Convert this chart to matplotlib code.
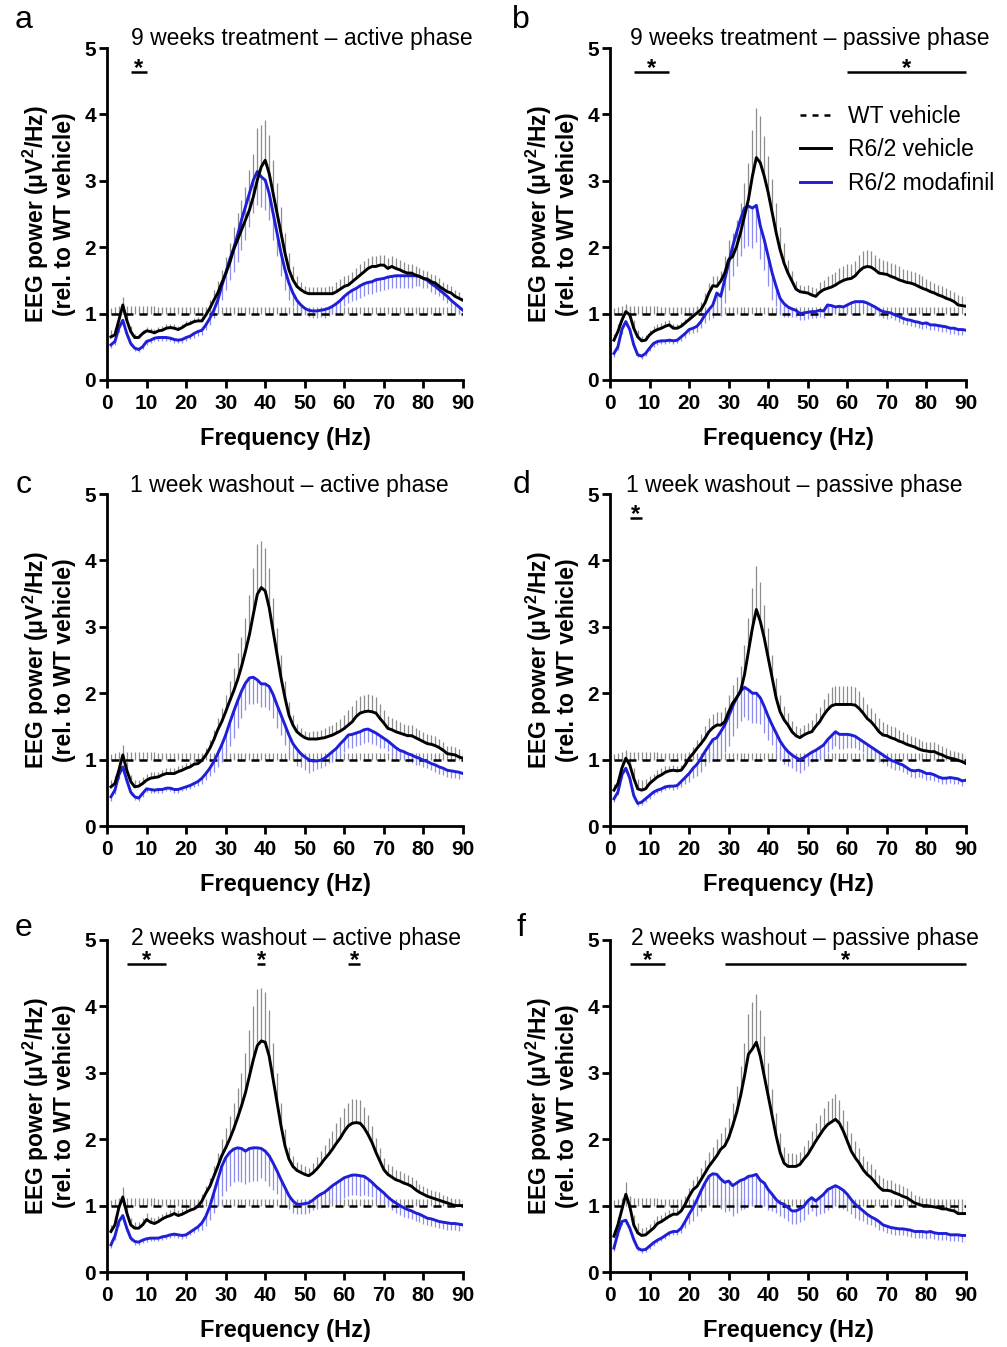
import numpy as np
import matplotlib
matplotlib.use('Agg')
import matplotlib.pyplot as plt
from matplotlib.lines import Line2D

plt.rcParams['font.family'] = ['Liberation Sans', 'DejaVu Sans']
plt.rcParams['mathtext.fontset'] = 'custom'
plt.rcParams['mathtext.rm'] = 'Liberation Sans'
plt.rcParams['mathtext.bf'] = 'Liberation Sans:bold'

#%% data (EEG power relative to WT vehicle, 1-90 Hz, mean and SEM)

freq = np.arange(1, 91)

# WT vehicle is the reference (=1), its SEM is about the same in all panels
wt_sem = [0.08,0.10,0.12,0.12,0.12,0.12,0.12,0.12,0.12,0.12,
          0.12,0.12,0.10,0.10,0.10,0.10,0.10,0.10,0.10,0.10,
          0.10,0.10,0.10,0.10,0.10,0.10,0.10,0.10,0.10,0.10,
          0.10,0.10,0.10,0.10,0.10,0.10,0.10,0.10,0.10,0.10,
          0.10,0.10,0.10,0.10,0.10,0.10,0.10,0.10,0.10,0.10,
          0.10,0.10,0.10,0.10,0.10,0.10,0.10,0.10,0.10,0.10,
          0.10,0.10,0.10,0.10,0.10,0.10,0.10,0.10,0.10,0.10,
          0.10,0.10,0.10,0.10,0.10,0.10,0.10,0.10,0.10,0.10,
          0.10,0.10,0.10,0.10,0.10,0.10,0.10,0.10,0.10,0.10]

# a: 9 weeks treatment - active phase
a_veh = [0.65,0.68,0.90,1.13,0.90,0.73,0.64,0.64,0.70,0.74,
         0.73,0.71,0.74,0.75,0.78,0.79,0.78,0.76,0.79,0.83,
         0.85,0.88,0.89,0.89,0.98,1.08,1.20,1.31,1.46,1.60,
         1.76,1.96,2.11,2.26,2.41,2.56,2.76,3.01,3.21,3.31,
         3.11,2.81,2.51,2.21,1.91,1.66,1.51,1.41,1.36,1.32,
         1.30,1.30,1.30,1.30,1.30,1.30,1.30,1.33,1.37,1.41,
         1.43,1.48,1.53,1.58,1.63,1.68,1.71,1.71,1.73,1.73,
         1.68,1.71,1.68,1.66,1.63,1.61,1.61,1.58,1.56,1.53,
         1.52,1.48,1.46,1.41,1.37,1.33,1.31,1.26,1.23,1.20]
a_veh_sem = [0.10,0.10,0.10,0.12,0.10,0.08,0.06,0.06,0.06,0.06,
             0.06,0.06,0.06,0.06,0.06,0.06,0.06,0.06,0.06,0.06,
             0.06,0.06,0.06,0.08,0.10,0.12,0.15,0.18,0.20,0.25,
             0.30,0.35,0.40,0.45,0.50,0.60,0.65,0.78,0.63,0.60,
             0.58,0.50,0.45,0.40,0.30,0.25,0.20,0.15,0.12,0.10,
             0.10,0.10,0.10,0.10,0.10,0.12,0.12,0.14,0.15,0.15,
             0.15,0.15,0.16,0.16,0.16,0.16,0.16,0.16,0.15,0.15,
             0.15,0.15,0.15,0.14,0.14,0.14,0.13,0.13,0.12,0.12,
             0.12,0.12,0.12,0.12,0.11,0.11,0.10,0.10,0.10,0.10]
a_mod = [0.53,0.58,0.78,0.90,0.70,0.55,0.48,0.46,0.50,0.58,
         0.60,0.63,0.64,0.64,0.64,0.63,0.61,0.60,0.61,0.64,
         0.66,0.70,0.73,0.75,0.83,0.93,1.05,1.20,1.41,1.61,
         1.81,1.98,2.18,2.41,2.61,2.81,3.01,3.14,3.06,3.01,
         2.81,2.51,2.21,1.91,1.66,1.46,1.31,1.20,1.13,1.08,
         1.05,1.04,1.04,1.05,1.06,1.08,1.11,1.15,1.20,1.26,
         1.31,1.35,1.38,1.42,1.45,1.47,1.48,1.51,1.52,1.53,
         1.55,1.56,1.57,1.57,1.57,1.57,1.57,1.57,1.56,1.53,
         1.50,1.45,1.41,1.36,1.31,1.26,1.20,1.15,1.10,1.05]
a_mod_sem = [0.05,0.05,0.05,0.06,0.05,0.04,0.04,0.04,0.04,0.05,
             0.05,0.05,0.05,0.05,0.05,0.05,0.05,0.05,0.05,0.05,
             0.05,0.06,0.06,0.07,0.08,0.10,0.12,0.15,0.20,0.25,
             0.30,0.35,0.40,0.45,0.50,0.50,0.50,0.50,0.45,0.45,
             0.40,0.40,0.35,0.35,0.30,0.25,0.20,0.15,0.12,0.10,
             0.10,0.10,0.10,0.10,0.12,0.12,0.12,0.15,0.15,0.15,
             0.15,0.16,0.18,0.18,0.18,0.18,0.18,0.18,0.18,0.18,
             0.18,0.18,0.18,0.18,0.18,0.18,0.18,0.15,0.15,0.15,
             0.12,0.12,0.12,0.10,0.10,0.10,0.10,0.10,0.10,0.10]

# b: 9 weeks treatment - passive phase
b_veh = [0.60,0.73,0.90,1.03,0.98,0.78,0.65,0.59,0.60,0.68,
         0.73,0.76,0.78,0.81,0.83,0.78,0.78,0.81,0.86,0.91,
         0.96,1.01,1.06,1.16,1.31,1.42,1.41,1.49,1.61,1.81,
         1.86,2.01,2.22,2.47,2.72,3.07,3.35,3.27,3.07,2.82,
         2.52,2.22,1.96,1.76,1.61,1.49,1.37,1.33,1.32,1.31,
         1.28,1.26,1.32,1.36,1.38,1.40,1.43,1.47,1.50,1.52,
         1.53,1.57,1.64,1.69,1.71,1.70,1.66,1.61,1.60,1.59,
         1.56,1.54,1.51,1.49,1.47,1.46,1.44,1.41,1.38,1.36,
         1.33,1.31,1.28,1.26,1.23,1.21,1.18,1.13,1.12,1.11]
b_veh_sem = [0.10,0.12,0.12,0.12,0.12,0.12,0.10,0.08,0.08,0.08,
             0.08,0.08,0.08,0.08,0.08,0.06,0.06,0.06,0.06,0.06,
             0.08,0.10,0.12,0.15,0.15,0.15,0.15,0.15,0.25,0.30,
             0.35,0.40,0.45,0.50,0.55,0.70,0.75,0.70,0.60,0.55,
             0.50,0.45,0.35,0.30,0.20,0.15,0.12,0.10,0.10,0.12,
             0.12,0.12,0.15,0.15,0.18,0.20,0.20,0.22,0.22,0.22,
             0.22,0.22,0.24,0.25,0.25,0.25,0.22,0.22,0.20,0.20,
             0.20,0.20,0.20,0.18,0.18,0.18,0.18,0.18,0.18,0.16,
             0.16,0.15,0.15,0.15,0.15,0.15,0.15,0.15,0.15,0.15]
b_mod = [0.40,0.50,0.76,0.88,0.76,0.53,0.38,0.36,0.40,0.48,
         0.55,0.58,0.59,0.59,0.60,0.59,0.60,0.65,0.70,0.76,
         0.78,0.81,0.88,0.98,1.06,1.13,1.31,1.26,1.51,1.76,
         2.01,2.22,2.42,2.59,2.62,2.59,2.63,2.32,2.11,1.86,
         1.61,1.41,1.23,1.15,1.10,1.07,1.05,1.00,1.01,1.02,
         1.03,1.03,1.05,1.04,1.13,1.12,1.10,1.11,1.10,1.13,
         1.16,1.18,1.18,1.18,1.16,1.13,1.10,1.06,1.03,1.02,
         1.01,0.98,0.96,0.93,0.91,0.90,0.88,0.87,0.85,0.86,
         0.83,0.83,0.82,0.81,0.80,0.78,0.78,0.76,0.76,0.75]
b_mod_sem = [0.05,0.05,0.06,0.06,0.05,0.04,0.04,0.04,0.04,0.05,
             0.05,0.05,0.05,0.05,0.05,0.05,0.05,0.06,0.06,0.07,
             0.07,0.08,0.10,0.12,0.15,0.20,0.25,0.30,0.35,0.40,
             0.45,0.50,0.55,0.60,0.60,0.60,0.55,0.50,0.45,0.45,
             0.40,0.30,0.25,0.20,0.15,0.12,0.10,0.10,0.10,0.10,
             0.10,0.10,0.10,0.10,0.10,0.10,0.10,0.10,0.10,0.10,
             0.10,0.10,0.10,0.10,0.10,0.10,0.10,0.10,0.10,0.10,
             0.08,0.08,0.08,0.08,0.08,0.08,0.08,0.08,0.08,0.08,
             0.08,0.08,0.08,0.08,0.08,0.08,0.08,0.08,0.08,0.08]

# c: 1 week washout - active phase
c_veh = [0.59,0.64,0.84,1.07,0.84,0.67,0.59,0.60,0.64,0.69,
         0.72,0.73,0.74,0.77,0.79,0.79,0.79,0.82,0.84,0.87,
         0.89,0.93,0.94,0.99,1.07,1.17,1.30,1.45,1.57,1.72,
         1.88,2.03,2.20,2.40,2.63,2.88,3.19,3.49,3.59,3.54,
         3.29,2.93,2.58,2.23,1.93,1.67,1.52,1.42,1.37,1.33,
         1.31,1.31,1.31,1.32,1.33,1.35,1.37,1.40,1.43,1.47,
         1.52,1.57,1.65,1.70,1.72,1.73,1.72,1.70,1.62,1.55,
         1.47,1.45,1.42,1.40,1.38,1.36,1.36,1.33,1.30,1.27,
         1.24,1.23,1.21,1.18,1.14,1.09,1.08,1.07,1.04,1.02]
c_veh_sem = [0.10,0.12,0.12,0.15,0.12,0.10,0.10,0.10,0.10,0.10,
             0.10,0.08,0.08,0.08,0.08,0.08,0.08,0.08,0.08,0.08,
             0.08,0.08,0.08,0.10,0.10,0.12,0.15,0.18,0.20,0.25,
             0.30,0.35,0.40,0.45,0.50,0.60,0.70,0.75,0.70,0.65,
             0.60,0.50,0.40,0.35,0.25,0.20,0.15,0.12,0.10,0.10,
             0.10,0.12,0.12,0.12,0.14,0.15,0.15,0.16,0.18,0.20,
             0.22,0.24,0.25,0.26,0.26,0.26,0.26,0.24,0.22,0.20,
             0.18,0.18,0.18,0.16,0.16,0.16,0.16,0.15,0.15,0.15,
             0.14,0.14,0.14,0.13,0.13,0.12,0.12,0.12,0.12,0.12]
c_mod = [0.44,0.54,0.77,0.89,0.69,0.51,0.44,0.42,0.49,0.56,
         0.55,0.54,0.55,0.55,0.57,0.57,0.55,0.55,0.57,0.59,
         0.61,0.64,0.67,0.72,0.79,0.87,0.97,1.09,1.22,1.37,
         1.55,1.72,1.88,2.03,2.15,2.23,2.24,2.20,2.14,2.14,
         2.10,1.98,1.82,1.67,1.52,1.37,1.24,1.16,1.09,1.04,
         1.00,0.98,0.98,0.99,1.02,1.07,1.12,1.17,1.24,1.30,
         1.37,1.38,1.40,1.42,1.45,1.46,1.43,1.40,1.36,1.32,
         1.28,1.23,1.18,1.14,1.12,1.09,1.07,1.04,1.02,0.99,
         0.97,0.94,0.92,0.89,0.87,0.84,0.83,0.82,0.81,0.79]
c_mod_sem = [0.06,0.06,0.06,0.06,0.05,0.05,0.05,0.05,0.05,0.05,
             0.05,0.05,0.05,0.05,0.05,0.05,0.05,0.05,0.05,0.05,
             0.06,0.06,0.07,0.08,0.10,0.12,0.15,0.20,0.25,0.30,
             0.35,0.40,0.40,0.40,0.40,0.40,0.40,0.35,0.35,0.35,
             0.35,0.35,0.35,0.30,0.30,0.30,0.25,0.25,0.20,0.20,
             0.20,0.15,0.12,0.12,0.12,0.12,0.15,0.15,0.18,0.18,
             0.20,0.20,0.20,0.20,0.20,0.20,0.20,0.18,0.18,0.15,
             0.15,0.15,0.15,0.12,0.12,0.12,0.12,0.12,0.10,0.10,
             0.10,0.10,0.10,0.10,0.10,0.10,0.10,0.10,0.10,0.10]

# d: 1 week washout - passive phase
d_veh = [0.54,0.64,0.87,1.02,0.92,0.72,0.56,0.54,0.56,0.64,
         0.69,0.74,0.77,0.81,0.83,0.84,0.83,0.84,0.92,1.02,
         1.09,1.17,1.24,1.32,1.42,1.48,1.52,1.52,1.57,1.72,
         1.85,1.93,2.03,2.28,2.63,2.98,3.26,3.08,2.83,2.53,
         2.23,1.93,1.72,1.60,1.52,1.42,1.36,1.33,1.37,1.40,
         1.42,1.50,1.57,1.67,1.75,1.81,1.83,1.83,1.83,1.83,
         1.83,1.82,1.77,1.70,1.62,1.57,1.50,1.42,1.37,1.36,
         1.33,1.31,1.28,1.26,1.23,1.21,1.19,1.16,1.14,1.13,
         1.12,1.12,1.09,1.07,1.04,1.02,1.01,0.99,0.97,0.94]
d_veh_sem = [0.10,0.10,0.10,0.12,0.12,0.15,0.15,0.15,0.15,0.12,
             0.10,0.10,0.10,0.10,0.08,0.08,0.08,0.08,0.10,0.10,
             0.10,0.12,0.15,0.18,0.20,0.20,0.20,0.20,0.22,0.25,
             0.28,0.32,0.38,0.45,0.50,0.60,0.65,0.60,0.50,0.45,
             0.35,0.30,0.25,0.20,0.18,0.16,0.15,0.15,0.15,0.15,
             0.18,0.20,0.22,0.25,0.26,0.28,0.28,0.28,0.28,0.28,
             0.28,0.28,0.26,0.25,0.22,0.20,0.20,0.20,0.20,0.18,
             0.18,0.18,0.16,0.16,0.15,0.15,0.15,0.15,0.14,0.14,
             0.14,0.14,0.14,0.14,0.13,0.12,0.12,0.12,0.12,0.12]
d_mod = [0.41,0.51,0.77,0.87,0.72,0.46,0.34,0.36,0.41,0.46,
         0.51,0.54,0.56,0.59,0.60,0.60,0.61,0.67,0.73,0.79,
         0.87,0.93,1.02,1.12,1.21,1.30,1.33,1.42,1.52,1.65,
         1.80,1.93,2.03,2.09,2.05,2.00,2.00,1.93,1.80,1.65,
         1.52,1.40,1.28,1.19,1.12,1.07,1.03,1.00,1.03,1.07,
         1.11,1.14,1.18,1.22,1.30,1.36,1.42,1.38,1.38,1.38,
         1.37,1.35,1.31,1.27,1.23,1.19,1.15,1.11,1.07,1.03,
         0.99,0.97,0.94,0.92,0.88,0.84,0.83,0.84,0.82,0.79,
         0.79,0.77,0.74,0.72,0.72,0.73,0.72,0.71,0.68,0.69]
d_mod_sem = [0.05,0.05,0.05,0.06,0.05,0.05,0.04,0.04,0.05,0.05,
             0.05,0.05,0.05,0.05,0.05,0.06,0.06,0.08,0.10,0.12,
             0.15,0.18,0.20,0.22,0.25,0.30,0.30,0.35,0.40,0.45,
             0.45,0.45,0.45,0.45,0.45,0.45,0.45,0.40,0.40,0.35,
             0.30,0.30,0.28,0.25,0.22,0.20,0.20,0.20,0.18,0.16,
             0.15,0.15,0.15,0.16,0.18,0.20,0.22,0.22,0.22,0.20,
             0.20,0.18,0.16,0.15,0.15,0.15,0.14,0.14,0.12,0.12,
             0.12,0.12,0.10,0.10,0.10,0.10,0.10,0.10,0.09,0.09,
             0.09,0.09,0.08,0.08,0.08,0.08,0.08,0.08,0.08,0.08]

# e: 2 weeks washout - active phase
e_veh = [0.61,0.71,0.97,1.13,0.89,0.71,0.66,0.66,0.71,0.79,
         0.75,0.73,0.76,0.80,0.83,0.85,0.88,0.85,0.87,0.90,
         0.93,0.95,0.99,1.07,1.19,1.29,1.44,1.59,1.75,1.87,
         2.00,2.15,2.32,2.50,2.70,2.95,3.20,3.41,3.48,3.46,
         3.25,2.90,2.55,2.20,1.90,1.70,1.59,1.53,1.50,1.47,
         1.45,1.49,1.55,1.62,1.70,1.77,1.85,1.94,2.02,2.12,
         2.20,2.24,2.25,2.24,2.17,2.07,1.95,1.80,1.67,1.54,
         1.47,1.43,1.39,1.37,1.34,1.32,1.29,1.24,1.20,1.17,
         1.14,1.12,1.10,1.08,1.06,1.04,1.02,1.00,1.00,1.00]
e_veh_sem = [0.10,0.12,0.12,0.15,0.12,0.10,0.10,0.10,0.10,0.10,
             0.08,0.08,0.08,0.08,0.08,0.08,0.08,0.08,0.08,0.08,
             0.08,0.08,0.08,0.10,0.10,0.12,0.15,0.20,0.25,0.30,
             0.35,0.40,0.45,0.50,0.60,0.70,0.80,0.85,0.80,0.75,
             0.70,0.55,0.45,0.35,0.25,0.18,0.15,0.12,0.12,0.12,
             0.12,0.15,0.18,0.20,0.22,0.25,0.28,0.30,0.32,0.35,
             0.35,0.36,0.36,0.35,0.32,0.30,0.25,0.22,0.20,0.18,
             0.16,0.16,0.15,0.15,0.15,0.14,0.14,0.14,0.12,0.12,
             0.12,0.12,0.12,0.12,0.10,0.10,0.10,0.10,0.10,0.10]
e_mod = [0.41,0.54,0.76,0.85,0.66,0.51,0.46,0.45,0.48,0.50,
         0.51,0.51,0.51,0.53,0.54,0.56,0.57,0.56,0.55,0.56,
         0.60,0.64,0.68,0.74,0.84,0.99,1.19,1.39,1.59,1.72,
         1.80,1.85,1.87,1.86,1.82,1.86,1.87,1.87,1.86,1.82,
         1.75,1.64,1.52,1.39,1.27,1.15,1.07,1.02,1.02,1.03,
         1.04,1.08,1.13,1.17,1.20,1.25,1.30,1.34,1.38,1.42,
         1.44,1.46,1.46,1.45,1.44,1.40,1.35,1.29,1.24,1.19,
         1.13,1.08,1.04,1.00,0.97,0.94,0.92,0.89,0.87,0.84,
         0.81,0.80,0.78,0.76,0.75,0.74,0.73,0.73,0.72,0.71]
e_mod_sem = [0.05,0.06,0.06,0.06,0.05,0.05,0.05,0.05,0.05,0.05,
             0.05,0.05,0.05,0.05,0.05,0.05,0.05,0.05,0.05,0.05,
             0.05,0.06,0.07,0.10,0.15,0.20,0.30,0.40,0.45,0.50,
             0.50,0.50,0.50,0.50,0.50,0.50,0.50,0.50,0.45,0.45,
             0.45,0.40,0.35,0.30,0.25,0.20,0.18,0.15,0.15,0.15,
             0.15,0.15,0.18,0.20,0.22,0.25,0.25,0.28,0.30,0.30,
             0.30,0.30,0.30,0.30,0.28,0.25,0.22,0.20,0.18,0.15,
             0.15,0.15,0.15,0.14,0.14,0.13,0.12,0.12,0.12,0.12,
             0.10,0.10,0.10,0.10,0.10,0.10,0.10,0.10,0.10,0.10]

# f: 2 weeks washout - passive phase
f_veh = [0.54,0.71,0.94,1.17,0.99,0.71,0.59,0.55,0.56,0.61,
         0.66,0.73,0.76,0.80,0.84,0.87,0.87,0.92,1.02,1.14,
         1.24,1.29,1.39,1.49,1.59,1.67,1.75,1.85,1.90,2.02,
         2.20,2.40,2.65,2.95,3.28,3.36,3.46,3.25,2.95,2.65,
         2.35,2.05,1.80,1.64,1.59,1.59,1.59,1.62,1.70,1.77,
         1.87,1.97,2.06,2.15,2.22,2.26,2.30,2.24,2.12,1.97,
         1.82,1.72,1.64,1.54,1.47,1.42,1.35,1.28,1.23,1.23,
         1.22,1.19,1.17,1.14,1.12,1.08,1.04,1.02,1.00,1.00,
         0.99,0.98,0.97,0.95,0.95,0.93,0.92,0.88,0.88,0.88]
f_veh_sem = [0.10,0.12,0.15,0.18,0.15,0.15,0.15,0.12,0.12,0.12,
             0.12,0.12,0.10,0.10,0.10,0.10,0.10,0.10,0.12,0.12,
             0.14,0.16,0.18,0.20,0.22,0.22,0.25,0.25,0.28,0.30,
             0.35,0.40,0.45,0.50,0.60,0.70,0.72,0.70,0.60,0.50,
             0.40,0.35,0.30,0.25,0.20,0.20,0.18,0.18,0.20,0.22,
             0.25,0.28,0.30,0.32,0.35,0.36,0.38,0.35,0.32,0.30,
             0.28,0.25,0.22,0.20,0.20,0.20,0.20,0.18,0.18,0.16,
             0.16,0.15,0.15,0.15,0.14,0.14,0.12,0.12,0.12,0.12,
             0.12,0.12,0.12,0.12,0.12,0.12,0.12,0.12,0.12,0.12]
f_mod = [0.36,0.59,0.76,0.78,0.66,0.49,0.36,0.33,0.34,0.39,
         0.44,0.48,0.51,0.55,0.59,0.61,0.61,0.66,0.76,0.87,
         0.97,1.09,1.22,1.34,1.44,1.48,1.47,1.40,1.35,1.37,
         1.30,1.34,1.38,1.40,1.44,1.45,1.47,1.38,1.34,1.24,
         1.17,1.09,1.04,1.02,0.97,0.92,0.92,0.95,0.99,1.07,
         1.12,1.07,1.12,1.17,1.24,1.27,1.30,1.27,1.23,1.17,
         1.09,1.02,0.97,0.92,0.87,0.83,0.80,0.76,0.71,0.69,
         0.67,0.66,0.65,0.65,0.64,0.63,0.61,0.61,0.61,0.60,
         0.61,0.59,0.58,0.58,0.58,0.56,0.56,0.56,0.55,0.55]
f_mod_sem = [0.05,0.05,0.05,0.05,0.05,0.05,0.04,0.04,0.04,0.04,
             0.05,0.05,0.05,0.05,0.05,0.05,0.06,0.08,0.10,0.15,
             0.20,0.25,0.30,0.35,0.40,0.45,0.45,0.45,0.45,0.45,
             0.45,0.45,0.45,0.45,0.45,0.45,0.45,0.40,0.35,0.30,
             0.25,0.20,0.20,0.20,0.20,0.20,0.20,0.20,0.20,0.20,
             0.20,0.22,0.25,0.28,0.30,0.30,0.30,0.30,0.28,0.25,
             0.22,0.20,0.18,0.15,0.14,0.12,0.12,0.12,0.10,0.10,
             0.10,0.10,0.10,0.10,0.10,0.10,0.10,0.10,0.10,0.10,
             0.10,0.10,0.10,0.10,0.10,0.10,0.10,0.10,0.10,0.10]

titles = ['9 weeks treatment \u2013 active phase', '9 weeks treatment \u2013 passive phase',
          '1 week washout \u2013 active phase', '1 week washout \u2013 passive phase',
          '2 weeks washout \u2013 active phase', '2 weeks washout \u2013 passive phase']
letters = ['a', 'b', 'c', 'd', 'e', 'f']
# significant frequency ranges (Hz), marked with *
sig_ranges = [[(6, 10)],
              [(6, 15), (60, 90)],
              [],
              [(5, 8)],
              [(5, 15), (38, 40), (61, 64)],
              [(5, 14), (29, 90)]]

veh_all = [a_veh, b_veh, c_veh, d_veh, e_veh, f_veh]
veh_sem_all = [a_veh_sem, b_veh_sem, c_veh_sem, d_veh_sem, e_veh_sem, f_veh_sem]
mod_all = [a_mod, b_mod, c_mod, d_mod, e_mod, f_mod]
mod_sem_all = [a_mod_sem, b_mod_sem, c_mod_sem, d_mod_sem, e_mod_sem, f_mod_sem]

#%% figure

BLUE = '#1f1fd8'
GREY_ERR = '#8c8c8c'
BLUE_ERR = '#8d8df0'

W, H = 1007, 1347
fig = plt.figure(figsize=(W / 100, H / 100), dpi=100)

col_left = [107, 610]
row_top = [48, 494, 940]
ax_w, ax_h = 356, 332
title_x = [0.546, 0.562, 0.513, 0.517, 0.530, 0.548]
title_y = [1.03, 1.03, 1.027, 1.027, 1.006, 1.006]

wt = np.ones(len(freq))  # WT vehicle is the normalisation reference
wts = np.array(wt_sem)

for k in range(6):
    row, col = divmod(k, 2)
    ax = fig.add_axes([col_left[col] / W, 1 - (row_top[row] + ax_h) / H, ax_w / W, ax_h / H])
    veh = np.array(veh_all[k]); vs = np.array(veh_sem_all[k])
    mod = np.array(mod_all[k]); ms = np.array(mod_sem_all[k])

    ax.vlines(freq, wt, wt + wts, color=GREY_ERR, lw=0.9, zorder=1)
    ax.vlines(freq, veh, veh + vs, color=GREY_ERR, lw=0.9, zorder=1)
    ax.vlines(freq, mod - ms, mod, color=BLUE_ERR, lw=0.9, zorder=1)
    ax.plot(freq, wt, color='black', lw=1.8, dashes=(3.2, 2.4), zorder=2)
    ax.plot(freq, mod, color=BLUE, lw=2.1, zorder=3)
    ax.plot(freq, veh, color='black', lw=2.1, zorder=4)

    for lo, hi in sig_ranges[k]:
        ax.plot([lo, hi], [4.64, 4.64], color='black', lw=1.8, solid_capstyle='butt', clip_on=False)
        ax.text((lo + hi) / 2, 4.6, '*', ha='center', va='baseline',
                fontsize=17, fontweight='bold')

    ax.set_xlim(0, 90)
    ax.set_ylim(0, 5)
    ax.set_xticks(range(0, 91, 10))
    ax.set_yticks(range(0, 6))
    for s in ['top', 'right']:
        ax.spines[s].set_visible(False)
    for s in ['left', 'bottom']:
        ax.spines[s].set_linewidth(2.0)
    ax.tick_params(direction='out', length=6, width=2.0, labelsize=15)
    ax.tick_params(axis='x', pad=4)
    ax.tick_params(axis='y', pad=2)
    for lab in ax.get_xticklabels() + ax.get_yticklabels():
        lab.set_fontweight('bold')

    ax.set_xlabel('Frequency (Hz)', fontsize=17, fontweight='bold', labelpad=10)
    ax.set_ylabel('EEG power (\u03bcV$^{\\mathbf{2}}$/Hz)\n(rel. to WT vehicle)', fontsize=16.5,
                  fontweight='bold', labelpad=6, linespacing=1.1)
    ax.text(title_x[k], title_y[k], titles[k], transform=ax.transAxes,
            ha='center', va='center', fontsize=16.5)

    lx = 24 if col == 0 else 521
    ly = [20, 485, 928][row]
    fig.text(lx / W, 1 - ly / H, letters[k], fontsize=23, ha='center', va='center')

    if k == 1:
        handles = [Line2D([], [], color='black', lw=1.8, dashes=(2.4, 2.4)),
                   Line2D([], [], color='black', lw=2.1),
                   Line2D([], [], color=BLUE, lw=2.1)]
        fig.legend(handles, ['WT vehicle', 'R6/2 vehicle', 'R6/2 modafinil'],
                   loc='center left', bbox_to_anchor=(800 / W, 1 - 150 / H),
                   frameon=False, fontsize=16.5, handlelength=1.35,
                   handletextpad=0.75, labelspacing=0.45, borderpad=0, borderaxespad=0)

fig.savefig('out.png', dpi=100)
